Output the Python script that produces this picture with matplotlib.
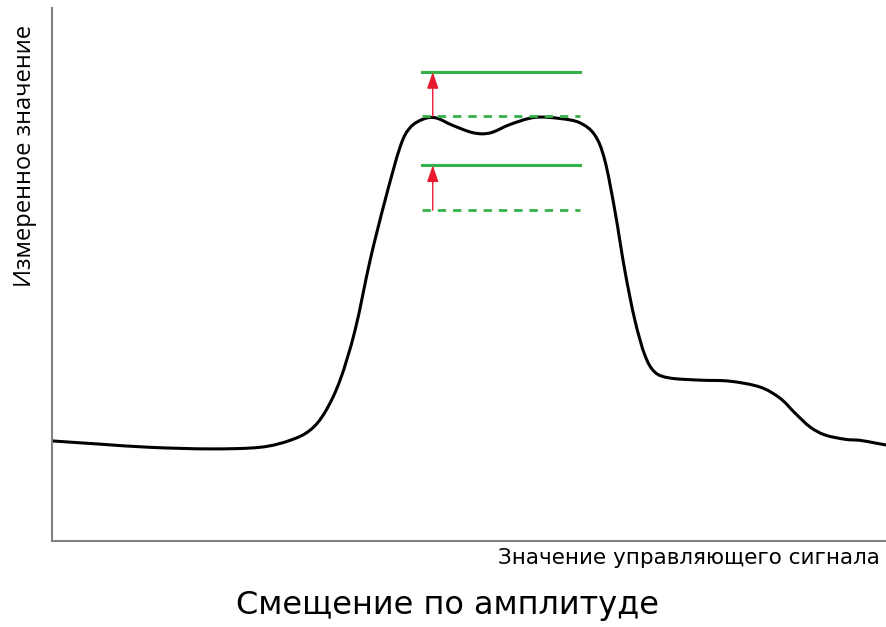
import matplotlib
matplotlib.use("Agg")
import matplotlib.pyplot as plt
import numpy as np
from matplotlib.path import Path
from matplotlib.patches import PathPatch

# measured curve, x = control signal (0-100), y = measured value (0-100)
signal = [0, 5.7, 11.7, 18.9, 24.9, 28.5, 30.9, 32.7, 34.5, 36.3, 38.1, 39.9, 41.7, 42.9,
          44.5, 46.0, 48.0, 50.5, 52.5, 54.9, 57.8, 60.8, 63.2, 65.0, 66.2, 67.4, 68.6,
          69.8, 71.0, 72.2, 74.0, 77.6, 81.2, 84.8, 87.2, 89.0, 90.8, 92.6, 95.0, 96.8,
          98.6, 100]
measured = [18.8, 18.2, 17.6, 17.3, 17.6, 18.9, 20.8, 24.2, 30.2, 39.6, 52.7, 64.0, 74.0,
            77.6, 79.2, 79.4, 78.0, 76.6, 76.6, 78.2, 79.5, 79.3, 78.5, 76.2, 71.5, 62.1,
            50.8, 41.5, 34.9, 31.7, 30.6, 30.2, 30.0, 28.9, 26.8, 24.0, 21.4, 19.9, 19.1,
            18.9, 18.4, 18.0]

# reference levels: (before, after) shift
level_before = [79.7, 62.1]
level_after = [88.0, 70.5]
level_x = [44.3, 63.2]
arrow_x = 45.6

green = "#34b24a"
red = "#e8192c"


def smooth_path(x, y):
    # Catmull-Rom through the points, written as cubic Bezier segments
    p = np.column_stack([x, y])
    pp = np.vstack([p[0], p, p[-1]])
    verts = [p[0]]
    codes = [Path.MOVETO]
    for i in range(1, len(pp) - 2):
        p0, p1, p2, p3 = pp[i - 1], pp[i], pp[i + 1], pp[i + 2]
        verts += [p1 + (p2 - p0) / 6, p2 - (p3 - p1) / 6, p2]
        codes += [Path.CURVE4] * 3
    return Path(verts, codes)


fig = plt.figure(figsize=(8.87, 6.27), dpi=100)
ax = fig.add_axes([0.0586, 0.137, 0.9414, 0.85])

ax.add_patch(PathPatch(smooth_path(signal, measured), fill=False, edgecolor="black",
                       lw=2.2, capstyle="round"))

for lo, hi in zip(level_before, level_after):
    ax.plot(level_x, [hi, hi], color=green, lw=2.2)
    ax.plot(level_x, [lo, lo], color=green, lw=2, ls=(0, (3, 2.5)))
    ax.annotate("", xy=(arrow_x, hi), xytext=(arrow_x, lo),
                arrowprops=dict(arrowstyle="-|>,head_length=1.0,head_width=0.35",
                                color=red, lw=1, shrinkA=0, shrinkB=0))

ax.set_xlim(0, 100)
ax.set_ylim(0, 100)
ax.set_xticks([])
ax.set_yticks([])
for s in ["top", "right"]:
    ax.spines[s].set_visible(False)
for s in ["left", "bottom"]:
    ax.spines[s].set_color("#808080")
    ax.spines[s].set_linewidth(1.5)

fig.text(0.028, 0.752, "Измеренное значение", rotation=90, ha="center", va="center",
         fontsize=17, family=["Open Sans", "DejaVu Sans"])
fig.text(0.992, 0.11, "Значение управляющего сигнала", ha="right", va="center",
         fontsize=15.5, family=["DejaVu Sans"])
fig.text(0.505, 0.035, "Смещение по амплитуде", ha="center", va="center",
         fontsize=23, family=["DejaVu Sans"])

fig.savefig("out.png", dpi=100)
